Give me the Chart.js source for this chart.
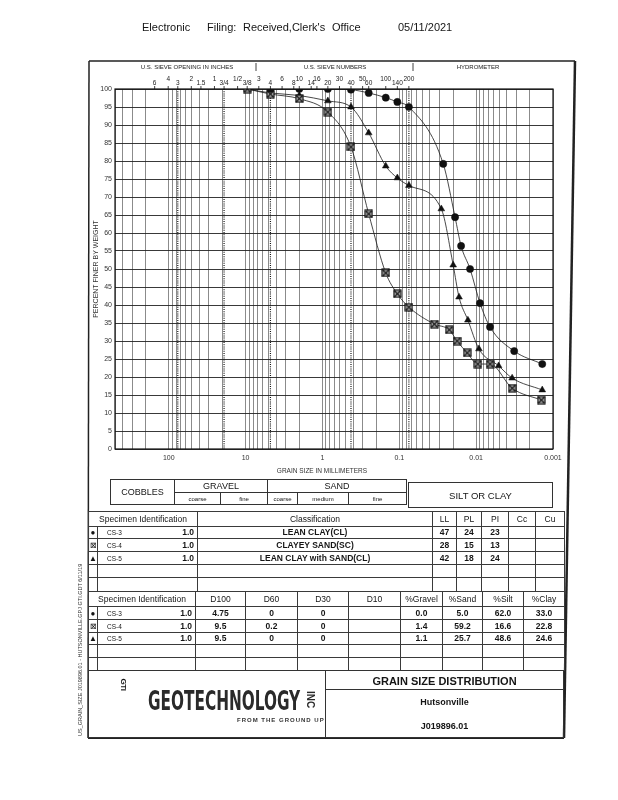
<!DOCTYPE html>
<html lang="en">
<head>
<meta charset="UTF-8">
<title>Grain Size Distribution</title>
<script src="https://cdn.jsdelivr.net/npm/chart.js"></script>
<style>
  body { margin: 0; background: #fff; font-family: "Liberation Sans", Arial, sans-serif; color: #151515; }
  #page { position: relative; width: 618px; height: 800px; overflow: hidden; }
  #chart { position: absolute; left: 0; top: 0; }
  .abs { position: absolute; white-space: nowrap; }
  .box { position: absolute; border: 1px solid #333; box-sizing: border-box; display: flex; align-items: center; justify-content: center; white-space: nowrap; }
  table.t { position: absolute; left: 88px; width: 476px; border-collapse: collapse; table-layout: fixed; }
  table.t td { border: 1px solid #3a3a3a; padding: 0 3px; font-size: 8.5px; text-align: center; white-space: nowrap; overflow: hidden; line-height: 9px; }
  table.t td.mk { padding: 0; font-size: 8px; }
  table.t td.b { font-weight: bold; }
  .sid { float: left; font-size: 6.5px; padding-left: 6px; }
  .dep { float: right; font-weight: bold; }
</style>
</head>
<body>
<div id="page">
  <canvas id="chart" width="618" height="800"></canvas>

  <!-- cabeçalho do arquivo digitalizado -->
  <span class="abs" style="left:142px;top:21px;font-size:11px">Electronic</span>
  <span class="abs" style="left:207px;top:21px;font-size:11px">Filing:</span>
  <span class="abs" style="left:243px;top:21px;font-size:11px">Received,Clerk's</span>
  <span class="abs" style="left:332px;top:21px;font-size:11px">Office</span>
  <span class="abs" style="left:398px;top:21px;font-size:11px">05/11/2021</span>

  <!-- faixas de classificação -->
  <div class="box" style="left:110px;top:479px;width:65px;height:26px;font-size:9px">COBBLES</div>
  <div class="box" style="left:174px;top:479px;width:94px;height:14px;font-size:9px">GRAVEL</div>
  <div class="box" style="left:174px;top:492px;width:47px;height:13px;font-size:6px">coarse</div>
  <div class="box" style="left:220px;top:492px;width:48px;height:13px;font-size:6px">fine</div>
  <div class="box" style="left:267px;top:479px;width:140px;height:14px;font-size:9px">SAND</div>
  <div class="box" style="left:267px;top:492px;width:31px;height:13px;font-size:6px">coarse</div>
  <div class="box" style="left:297px;top:492px;width:52px;height:13px;font-size:6px">medium</div>
  <div class="box" style="left:348px;top:492px;width:59px;height:13px;font-size:6px">fine</div>
  <div class="box" style="left:408px;top:482px;width:145px;height:26px;font-size:9.5px">SILT OR CLAY</div>

  <table class="t" id="tab1" style="top:511px"></table>
  <table class="t" id="tab2" style="top:591px"></table>

  <!-- bloco do logotipo e título -->
  <div class="abs" style="left:88px;top:670px;width:476px;height:68px;border:1px solid #333;box-sizing:border-box"></div>
  <div class="abs" style="left:325px;top:670px;width:1px;height:68px;background:#333"></div>
  <div class="abs" style="left:325px;top:689px;width:239px;height:1px;background:#333"></div>
  <div class="abs" style="left:325px;top:675px;width:239px;text-align:center;font-size:11px;font-weight:bold">GRAIN SIZE DISTRIBUTION</div>
  <div class="abs" style="left:325px;top:697px;width:239px;text-align:center;font-size:9px;font-weight:bold">Hutsonville</div>
  <div class="abs" style="left:325px;top:721px;width:239px;text-align:center;font-size:9px;font-weight:bold">J019896.01</div>

  <div class="abs" style="left:118px;top:680px;font-size:8px;font-weight:bold;transform:rotate(90deg);letter-spacing:-0.5px">GTI</div>
  <div class="abs" style="left:148px;top:685px;font-family:'DejaVu Sans Condensed','Liberation Sans Narrow',sans-serif;font-weight:bold;font-size:27px;color:#2a2a2a;transform:scaleX(0.63);transform-origin:0 0">GEOTECHNOLOGY</div>
  <div class="abs" style="left:302px;top:694px;font-size:10px;font-weight:bold;transform:rotate(90deg);color:#2a2a2a">INC</div>
  <div class="abs" style="left:237px;top:717px;font-size:6px;font-weight:bold;letter-spacing:1px;color:#333">FROM THE GROUND UP</div>

  <div class="abs" style="left:-25px;top:628px;width:210px;font-size:5.5px;color:#333;transform:rotate(-90deg);transform-origin:center">US_GRAIN_SIZE J019896.01 - HUTSONVILLE.GPJ  GTI.GDT  6/11/19</div>
</div>

<script>
// aberturas das peneiras (topo do gráfico)
const sieveLabels = ["6", "4", "3", "2", "1.5", "1", "3/4", "1/2", "3/8", "3", "4", "6", "8", "10", "14", "16", "20", "30", "40", "50", "60", "100", "140", "200"];
const sieveSizes = [152.4, 101.6, 76.2, 50.8, 38.1, 25.4, 19.05, 12.7, 9.525, 6.73, 4.75, 3.35, 2.36, 2.0, 1.4, 1.18, 0.85, 0.6, 0.425, 0.3, 0.25, 0.15, 0.106, 0.075];
// linhas pontilhadas: 3", 3/4", #4, #40, #200
const boundarySizes = [76.2, 19.05, 4.75, 0.425, 0.075];

// rótulos do eixo x
const xTickValues = [100, 10, 1, 0.1, 0.01, 0.001];
const xTickLabels = ["100", "10", "1", "0.1", "0.01", "0.001"];

// curvas granulométricas (mm, % passante)
const cs3Size = [4.75, 2.0, 0.85, 0.425, 0.25, 0.15, 0.106, 0.075, 0.0268, 0.0188, 0.0157, 0.0120, 0.0089, 0.0066, 0.0032, 0.00138];
const cs3Finer = [100, 100, 100, 99.8, 98.9, 97.6, 96.4, 95.0, 79.2, 64.4, 56.4, 50.0, 40.5, 33.9, 27.2, 23.6];
const cs4Size = [9.5, 4.75, 2.0, 0.85, 0.425, 0.25, 0.15, 0.106, 0.075, 0.035, 0.0224, 0.0177, 0.0131, 0.0095, 0.0066, 0.0034, 0.00142];
const cs4Finer = [100, 98.6, 97.3, 93.6, 83.9, 65.3, 48.9, 43.1, 39.4, 34.7, 33.1, 30.0, 26.7, 23.6, 23.6, 16.9, 13.6];
const cs5Size = [9.5, 4.75, 2.0, 0.85, 0.425, 0.25, 0.15, 0.106, 0.075, 0.0284, 0.0199, 0.0167, 0.0128, 0.0092, 0.0051, 0.0034, 0.00138];
const cs5Finer = [100, 98.9, 98.2, 96.7, 95.0, 87.8, 78.6, 75.3, 73.2, 66.7, 51.1, 42.2, 35.8, 27.8, 23.1, 19.7, 16.4];

// tabelas
const markers = ["●", "⊠", "▲"];
const specimenIds = ["CS-3", "CS-4", "CS-5"];
const depths = ["1.0", "1.0", "1.0"];
const classifications = ["LEAN CLAY(CL)", "CLAYEY SAND(SC)", "LEAN CLAY with SAND(CL)"];
const liquidLimit = ["47", "28", "42"];
const plasticLimit = ["24", "15", "18"];
const plasticityIndex = ["23", "13", "24"];
const d100 = ["4.75", "9.5", "9.5"];
const d60 = ["0", "0.2", "0"];
const d30 = ["0", "0", "0"];
const pctGravel = ["0.0", "1.4", "1.1"];
const pctSand = ["5.0", "59.2", "25.7"];
const pctSilt = ["62.0", "16.6", "48.6"];
const pctClay = ["33.0", "22.8", "24.6"];

// monta as duas tabelas
function row(h, cells) {
  return `<tr style="height:${h}px">` + cells.join("") + "</tr>";
}
function colgroup(ws) {
  return "<colgroup>" + ws.map(w => `<col style="width:${w}px">`).join("") + "</colgroup>";
}
let t1 = colgroup([9, 100, 235, 24, 25, 27, 27, 29]);
t1 += row(15, ['<td colspan="2">Specimen Identification</td>', "<td>Classification</td>", "<td>LL</td>", "<td>PL</td>", "<td>PI</td>", "<td>Cc</td>", "<td>Cu</td>"]);
const h1 = [12, 13, 13];
specimenIds.forEach((id, i) => {
  t1 += row(h1[i], [`<td class="mk">${markers[i]}</td>`, `<td><span class="sid">${id}</span><span class="dep">${depths[i]}</span></td>`,
    `<td class="b">${classifications[i]}</td>`, `<td class="b">${liquidLimit[i]}</td>`, `<td class="b">${plasticLimit[i]}</td>`,
    `<td class="b">${plasticityIndex[i]}</td>`, "<td></td>", "<td></td>"]);
});
t1 += row(13, Array(8).fill("<td></td>"));
t1 += row(14, Array(8).fill("<td></td>"));
document.getElementById("tab1").innerHTML = t1;

let t2 = colgroup([9, 98, 50, 52, 51, 52, 42, 40, 41, 41]);
t2 += row(15, ['<td colspan="2">Specimen Identification</td>', "<td>D100</td>", "<td>D60</td>", "<td>D30</td>", "<td>D10</td>",
  "<td>%Gravel</td>", "<td>%Sand</td>", "<td>%Silt</td>", "<td>%Clay</td>"]);
const h2 = [13, 13, 12];
specimenIds.forEach((id, i) => {
  t2 += row(h2[i], [`<td class="mk">${markers[i]}</td>`, `<td><span class="sid">${id}</span><span class="dep">${depths[i]}</span></td>`,
    `<td class="b">${d100[i]}</td>`, `<td class="b">${d60[i]}</td>`, `<td class="b">${d30[i]}</td>`, "<td></td>",
    `<td class="b">${pctGravel[i]}</td>`, `<td class="b">${pctSand[i]}</td>`, `<td class="b">${pctSilt[i]}</td>`, `<td class="b">${pctClay[i]}</td>`]);
});
t2 += row(13, Array(10).fill("<td></td>"));
t2 += row(13, Array(10).fill("<td></td>"));
document.getElementById("tab2").innerHTML = t2;

// quadrado com X para o CS-4
function boxCross() {
  const c = document.createElement("canvas");
  c.width = c.height = 9;
  const g = c.getContext("2d");
  g.fillStyle = "#bbb";
  g.fillRect(1, 1, 7, 7);
  g.strokeStyle = "#111";
  g.lineWidth = 1.2;
  g.strokeRect(1, 1, 7, 7);
  g.beginPath();
  g.moveTo(1, 1); g.lineTo(8, 8);
  g.moveTo(8, 1); g.lineTo(1, 8);
  g.stroke();
  return c;
}

function pontos(sizes, finer) {
  return sizes.map((d, i) => ({ x: d, y: finer[i] }));
}

// linhas decorativas, rótulos das peneiras e moldura
const decor = {
  id: "decor",
  beforeDatasetsDraw(chart) {
    const { ctx, chartArea: a, scales: { x } } = chart;
    ctx.save();
    ctx.setLineDash([1, 1.2]);
    ctx.strokeStyle = "#111";
    ctx.lineWidth = 1.2;
    boundarySizes.forEach(d => {
      const px = x.getPixelForValue(d);
      ctx.beginPath(); ctx.moveTo(px, a.top); ctx.lineTo(px, a.bottom); ctx.stroke();
    });
    ctx.restore();
  },
  afterDraw(chart) {
    const { ctx, chartArea: a, scales: { x } } = chart;
    ctx.save();
    // borda do gráfico
    ctx.strokeStyle = "#111";
    ctx.lineWidth = 1.2;
    ctx.strokeRect(a.left, a.top, a.right - a.left, a.bottom - a.top);

    // rótulos das peneiras, alternando a altura
    ctx.fillStyle = "#222";
    ctx.font = "6.5px 'Liberation Sans', Arial, sans-serif";
    ctx.textAlign = "center";
    ctx.textBaseline = "middle";
    sieveSizes.forEach((d, i) => {
      const px = x.getPixelForValue(d);
      ctx.fillText(sieveLabels[i], px, i % 2 ? 79.5 : 83);
      ctx.beginPath(); ctx.moveTo(px, a.top - 3); ctx.lineTo(px, a.top); ctx.lineWidth = 0.8; ctx.stroke();
    });

    // cabeçalho da moldura
    ctx.font = "6px 'Liberation Sans', Arial, sans-serif";
    ctx.fillText("U.S. SIEVE OPENING IN INCHES", 187, 67);
    ctx.fillText("U.S. SIEVE NUMBERS", 335, 67);
    ctx.fillText("HYDROMETER", 478, 67);
    ctx.lineWidth = 0.8;
    [256, 413].forEach(px => { ctx.beginPath(); ctx.moveTo(px, 63); ctx.lineTo(px, 71); ctx.stroke(); });

    // títulos dos eixos
    ctx.fillStyle = "#333";
    ctx.font = "6.5px 'Liberation Sans', Arial, sans-serif";
    ctx.fillText("GRAIN SIZE IN MILLIMETERS", 322, 471);
    ctx.translate(96, (a.top + a.bottom) / 2);
    ctx.rotate(-Math.PI / 2);
    ctx.font = "7px 'Liberation Sans', Arial, sans-serif";
    ctx.fillText("PERCENT FINER BY WEIGHT", 0, 0);
    ctx.restore();

    // moldura externa (digitalização levemente inclinada)
    ctx.save();
    ctx.strokeStyle = "#222";
    ctx.lineWidth = 1.5;
    ctx.beginPath(); ctx.moveTo(89, 61); ctx.lineTo(575, 61); ctx.stroke();
    ctx.beginPath(); ctx.moveTo(89, 61); ctx.lineTo(88, 738); ctx.stroke();
    ctx.lineWidth = 2;
    ctx.beginPath(); ctx.moveTo(88, 738); ctx.lineTo(564, 738); ctx.stroke();
    ctx.lineWidth = 2.5;
    ctx.beginPath(); ctx.moveTo(575, 61); ctx.lineTo(564, 738); ctx.stroke();
    ctx.restore();
  }
};

const ctx = document.getElementById("chart").getContext("2d");
new Chart(ctx, {
  type: "line",
  data: {
    datasets: [
      { label: "CS-3", data: pontos(cs3Size, cs3Finer), pointStyle: "circle", pointRadius: 3.6,
        pointBackgroundColor: "#111", pointBorderColor: "#111", pointBorderWidth: 0.5 },
      { label: "CS-4", data: pontos(cs4Size, cs4Finer), pointStyle: boxCross(), pointRadius: 4 },
      { label: "CS-5", data: pontos(cs5Size, cs5Finer), pointStyle: "triangle", pointRadius: 3.9,
        pointBackgroundColor: "#111", pointBorderColor: "#111", pointBorderWidth: 0.5 }
    ]
  },
  options: {
    responsive: false,
    animation: false,
    layout: { padding: { left: 95, top: 89, right: 65, bottom: 339 } },
    elements: {
      line: { borderColor: "#1a1a1a", borderWidth: 0.8, cubicInterpolationMode: "monotone", fill: false }
    },
    plugins: { legend: { display: false }, tooltip: { enabled: false } },
    scales: {
      x: {
        type: "logarithmic",
        reverse: true,
        min: 0.001,
        max: 500,
        afterFit: s => { s.height = 12; },
        afterBuildTicks: s => {
          const t = [];
          for (let e = -3; e <= 2; e++) {
            for (let m = 1; m <= 9; m++) {
              const v = m * Math.pow(10, e);
              if (v <= 500) t.push({ value: v });
            }
          }
          s.ticks = t;
        },
        grid: { color: "#3c3c3c", lineWidth: 0.6, drawTicks: false },
        border: { display: false },
        ticks: {
          autoSkip: false,
          maxRotation: 0,
          padding: 5,
          color: "#333",
          font: { family: "'Liberation Sans', Arial, sans-serif", size: 7 },
          callback: v => {
            const i = xTickValues.findIndex(t => Math.abs(t - v) / t < 1e-6);
            return i >= 0 ? xTickLabels[i] : "";
          }
        }
      },
      y: {
        min: 0,
        max: 100,
        afterFit: s => { s.width = 20; },
        grid: { color: "#222", lineWidth: 0.9, drawTicks: false },
        border: { display: false },
        ticks: {
          stepSize: 5,
          padding: 3,
          color: "#333",
          font: { family: "'Liberation Sans', Arial, sans-serif", size: 7 }
        }
      }
    }
  },
  plugins: [decor]
});
</script>
</body>
</html>
